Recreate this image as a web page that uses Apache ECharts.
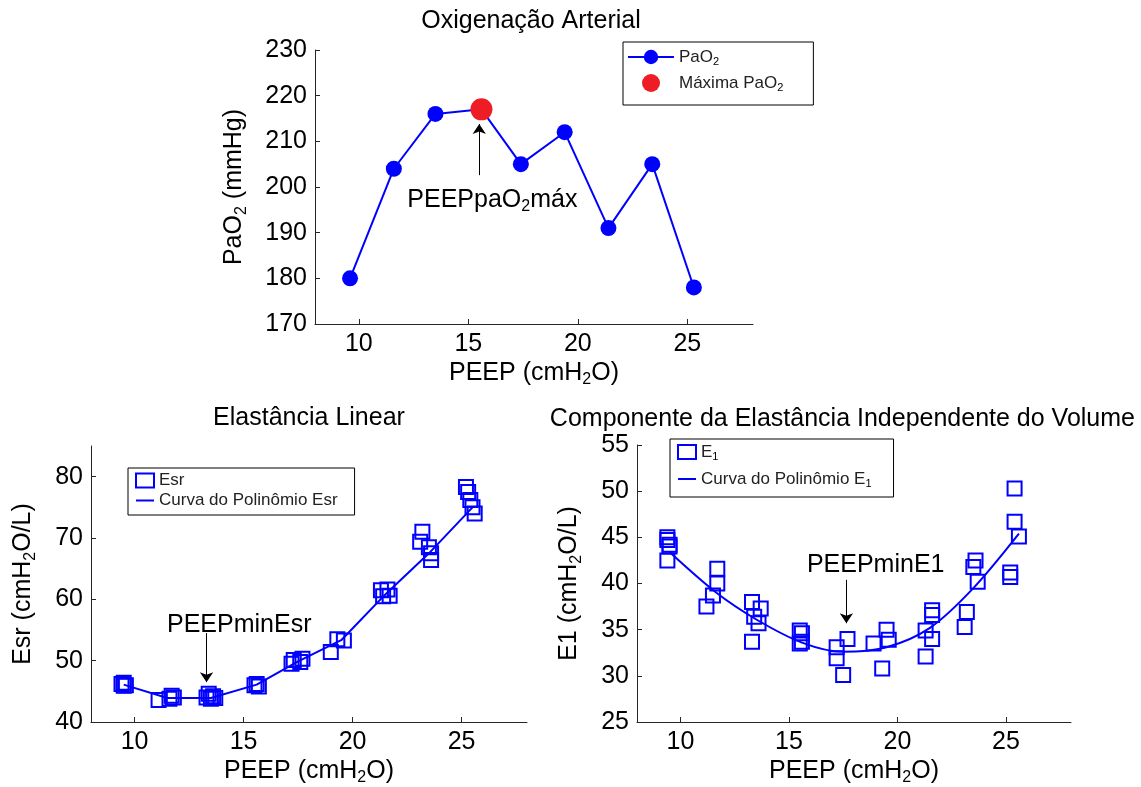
<!DOCTYPE html>
<html>
<head>
<meta charset="utf-8">
<title>PEEP</title>
<script src="https://cdn.jsdelivr.net/npm/echarts@6/dist/echarts.min.js"></script>
<style>
  html, body { margin: 0; padding: 0; background: #fff; }
  #chart { width: 1141px; height: 787px; }
</style>
</head>
<body>
<div id="chart"></div>
<script>
// oxigenacao arterial
var peepPaO2 = [9.6, 11.6, 13.5, 15.6, 17.4, 19.4, 21.4, 23.4, 25.3]
var paO2 = [180, 204, 216, 217, 205, 212, 191, 205, 178]
var peepMaxPaO2 = [15.6]
var maxPaO2 = [217]

// elastancia linear (Esr)
var esrPeep = [9.4, 9.5, 9.5, 9.6, 11.1, 11.6, 11.7, 11.8, 13.3, 13.4, 13.5, 13.6, 13.7,
  15.5, 15.6, 15.7, 17.2, 17.3, 17.6, 17.7, 19.0, 19.3, 19.6, 21.3, 21.4, 21.6, 21.7,
  23.1, 23.2, 23.5, 23.6, 23.6, 25.2, 25.3, 25.4, 25.5, 25.6]
var esr = [46.2, 45.9, 46.4, 46.0, 43.6, 43.8, 44.3, 44.0, 44.0, 44.6, 43.8, 44.2, 43.9,
  46.0, 46.2, 45.8, 49.5, 50.1, 49.8, 50.3, 51.4, 53.5, 53.3, 61.5, 60.5, 61.6, 60.6,
  69.4, 71.0, 68.5, 67.5, 66.4, 78.3, 77.5, 76.2, 75.0, 74.0]
var esrFitPeep = [9.5, 11.5, 13.5, 15.6, 17.5, 19.5, 21.5, 23.5, 25.5]
var esrFit = [46.1, 43.9, 43.9, 46.1, 49.9, 53.4, 60.8, 67.5, 75.0]

// componente independente do volume (E1)
var e1Peep = [9.4, 9.5, 9.4, 9.4, 9.5, 11.2, 11.5, 11.7, 11.7, 13.3, 13.3, 13.4, 13.6, 13.7,
  15.5, 15.6, 15.6, 15.5, 17.2, 17.2, 17.5, 17.7, 18.9, 19.3, 19.5, 19.6,
  21.3, 21.3, 21.6, 21.6, 21.6, 23.1, 23.2, 23.6, 23.5, 23.7, 25.2, 25.2, 25.4, 25.4, 25.6]
var e1 = [44.7, 44.2, 45.0, 42.5, 44.0, 37.5, 38.7, 41.6, 40.0, 38.0, 33.7, 36.4, 35.7, 37.3,
  34.9, 34.6, 33.7, 33.5, 33.1, 31.9, 30.1, 34.0, 33.5, 30.8, 35.0, 33.9,
  34.9, 32.1, 37.1, 36.6, 34.0, 35.3, 36.9, 42.5, 41.8, 40.2, 40.7, 41.2, 50.3, 46.7, 45.1]
var e1FitPeep = [9.5, 11.6, 13.5, 15.6, 17.5, 19.5, 21.5, 23.5, 25.6]
var e1Fit = [43.4, 39.1, 36.1, 33.6, 32.6, 33.1, 35.2, 39.5, 45.4]

// ticks
var peepTicks = [10, 15, 20, 25]
var paO2Ticks = [170, 180, 190, 200, 210, 220, 230]
var esrTicks = [40, 50, 60, 70, 80]
var e1Ticks = [25, 30, 35, 40, 45, 50, 55]

var FONT = 'Liberation Sans, Arial, Helvetica, sans-serif'
var BLUE = '#0000ff'
var AXIS = '#262626'
var FS = 25

function pairs (xs, ys) {
  return xs.map(function (x, i) { return [x, ys[i]] })
}

function subStyle (size) {
  return {
    fontSize: Math.round(size * 0.65),
    lineHeight: Math.round(size * 0.65),
    padding: [Math.round(size * 0.55), 0, 0, 0],
    fontFamily: FONT,
    color: '#000'
  }
}

function axis (gridIndex, min, max, ticks, name, nameGap) {
  return {
    type: 'value',
    gridIndex: gridIndex,
    min: min,
    max: max,
    name: name,
    nameLocation: 'middle',
    nameGap: nameGap,
    nameTextStyle: { fontSize: FS, color: '#000', fontFamily: FONT, rich: { sub: subStyle(FS) } },
    axisLine: { show: true, onZero: false, lineStyle: { color: AXIS, width: 1 } },
    axisTick: { show: true, inside: true, length: 5, customValues: ticks, lineStyle: { color: AXIS } },
    axisLabel: { show: true, customValues: ticks, fontSize: FS, color: '#000', fontFamily: FONT, margin: 8 },
    splitLine: { show: false }
  }
}

function arrow (x, y0, y1) {
  return {
    silent: true,
    symbol: ['none', 'arrow'],
    symbolSize: 10,
    label: { show: false },
    lineStyle: { color: '#000', width: 1, type: 'solid' },
    emphasis: { disabled: true },
    data: [[{ coord: [x, y0] }, { coord: [x, y1] }]]
  }
}

function note (x, y, text) {
  return {
    silent: true,
    data: [{
      coord: [x, y],
      symbol: 'circle',
      symbolSize: 1,
      itemStyle: { color: 'rgba(0,0,0,0)' },
      label: {
        show: true,
        position: 'inside',
        formatter: text,
        fontSize: FS,
        color: '#000',
        fontFamily: FONT,
        rich: { sub: subStyle(FS) }
      }
    }]
  }
}

function legendText (name) {
  return name.replace('PaO2', 'PaO{sub|2}').replace(/E1$/, 'E{sub|1}')
}

// a curve entry in the legend shows only its line
function curveEntry (name) {
  return { name: name, itemStyle: { opacity: 0 } }
}

function legend (names, left, top, itemWidth, itemHeight, itemGap, padding) {
  return {
    data: names,
    orient: 'vertical',
    left: left,
    top: top,
    itemWidth: itemWidth,
    itemHeight: itemHeight,
    itemGap: itemGap,
    padding: padding,
    borderColor: '#000',
    borderWidth: 1,
    backgroundColor: '#fff',
    formatter: legendText,
    textStyle: { fontSize: 17, color: '#222', fontFamily: FONT, rich: { sub: subStyle(17) } }
  }
}

var titleStyle = { fontSize: FS, fontWeight: 'normal', color: '#000', fontFamily: FONT }

var option = {
  animation: false,
  backgroundColor: '#fff',
  title: [
    { text: 'Oxigenação Arterial', left: 531, top: 9, textAlign: 'center', padding: 0, textStyle: titleStyle },
    { text: 'Elastância Linear', left: 309, top: 406, textAlign: 'center', padding: 0, textStyle: titleStyle },
    { text: 'Componente da Elastância Independente do Volume', right: 6, top: 407, padding: 0, textStyle: titleStyle }
  ],
  legend: [
    legend(['PaO2', 'Máxima PaO2'], 623, 42, 46, 18, 6, [5, 30, 12, 4]),
    legend(['Esr', curveEntry('Curva do Polinômio Esr')], 128, 468, 18, 14, 3, [4, 17, 6, 7]),
    legend(['E1', curveEntry('Curva do Polinômio E1')], 670, 439, 18, 14, 7, [3, 22, 8, 7])
  ],
  grid: [
    { left: 315, top: 50, width: 438, height: 274 },
    { left: 91, top: 446, width: 436, height: 276 },
    { left: 637, top: 445, width: 434, height: 277 }
  ],
  xAxis: [
    axis(0, 8, 28, peepTicks, 'PEEP (cmH{sub|2}O)', 32),
    axis(1, 8, 28, peepTicks, 'PEEP (cmH{sub|2}O)', 32),
    axis(2, 8, 28, peepTicks, 'PEEP (cmH{sub|2}O)', 32)
  ],
  yAxis: [
    axis(0, 170, 230, paO2Ticks, 'PaO{sub|2} (mmHg)', 68),
    axis(1, 40, 85, esrTicks, 'Esr (cmH{sub|2}O/L)', 55),
    axis(2, 25, 55, e1Ticks, 'E1 (cmH{sub|2}O/L)', 55)
  ],
  series: [
    {
      name: 'PaO2',
      type: 'line',
      xAxisIndex: 0,
      yAxisIndex: 0,
      data: pairs(peepPaO2, paO2),
      symbol: 'circle',
      symbolSize: 16,
      itemStyle: { color: BLUE, opacity: 1 },
      lineStyle: { color: BLUE, width: 2 },
      markLine: arrow(15.5, 202.6, 213.8),
      markPoint: note(16.1, 197.2, 'PEEPpaO{sub|2}máx')
    },
    {
      name: 'Máxima PaO2',
      type: 'scatter',
      xAxisIndex: 0,
      yAxisIndex: 0,
      data: pairs(peepMaxPaO2, maxPaO2),
      symbol: 'circle',
      symbolSize: 22,
      itemStyle: { color: '#ee1c25', opacity: 1 },
      z: 5
    },
    {
      name: 'Esr',
      type: 'scatter',
      xAxisIndex: 1,
      yAxisIndex: 1,
      data: pairs(esrPeep, esr),
      symbol: 'rect',
      symbolSize: 14,
      itemStyle: { color: 'rgba(0,0,0,0)', borderColor: BLUE, borderWidth: 2, opacity: 1 }
    },
    {
      name: 'Curva do Polinômio Esr',
      type: 'line',
      xAxisIndex: 1,
      yAxisIndex: 1,
      data: pairs(esrFitPeep, esrFit),
      symbol: 'none',
      itemStyle: { color: BLUE },
      lineStyle: { color: BLUE, width: 2 },
      markLine: arrow(13.3, 54.5, 46.5),
      markPoint: note(14.8, 55.8, 'PEEPminEsr')
    },
    {
      name: 'E1',
      type: 'scatter',
      xAxisIndex: 2,
      yAxisIndex: 2,
      data: pairs(e1Peep, e1),
      symbol: 'rect',
      symbolSize: 14,
      itemStyle: { color: 'rgba(0,0,0,0)', borderColor: BLUE, borderWidth: 2, opacity: 1 }
    },
    {
      name: 'Curva do Polinômio E1',
      type: 'line',
      xAxisIndex: 2,
      yAxisIndex: 2,
      data: pairs(e1FitPeep, e1Fit),
      symbol: 'none',
      smooth: 0.3,
      itemStyle: { color: BLUE },
      lineStyle: { color: BLUE, width: 2 },
      markLine: arrow(17.65, 40.4, 35.7),
      markPoint: note(19.0, 42.0, 'PEEPminE1')
    }
  ]
}

var myChart = echarts.init(document.getElementById('chart'))
myChart.setOption(option)
window.addEventListener('resize', function () {
  myChart.resize()
})
</script>
</body>
</html>
